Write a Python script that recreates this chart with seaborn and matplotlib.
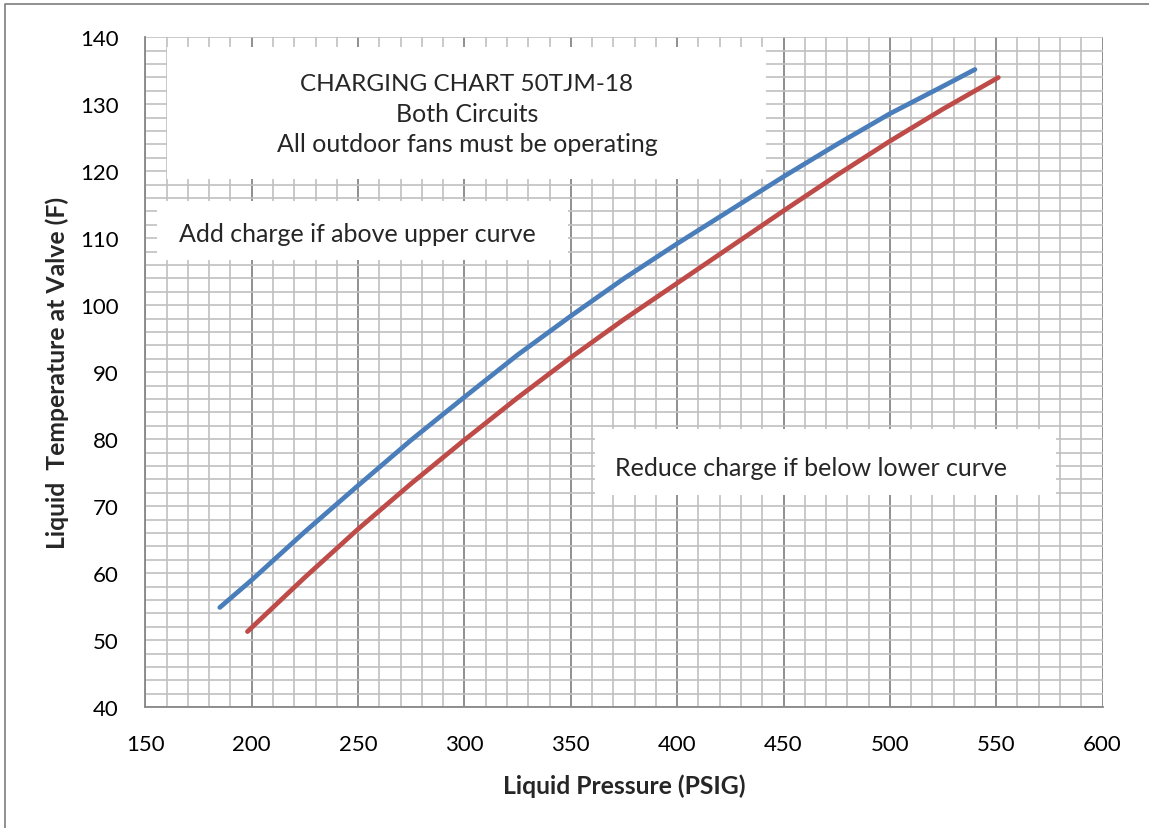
import pandas as pd
import matplotlib.pyplot as plt
import seaborn as sns
from matplotlib.lines import Line2D
from matplotlib.patches import Rectangle
from matplotlib.ticker import MultipleLocator

# Upper curve (blue)
upper_psig = [185, 200, 225, 250, 275, 300, 325, 350, 375, 400, 425, 450, 475, 500, 525, 540]
upper_temp = [54.9, 59.0, 66.2, 73.1, 79.9, 86.3, 92.6, 98.4, 104.0, 109.2, 114.2, 119.2, 124.0, 128.6, 132.7, 135.2]

# Lower curve (red)
lower_psig = [198, 225, 250, 275, 300, 325, 350, 375, 400, 425, 450, 475, 500, 525, 551]
lower_temp = [51.3, 59.4, 66.6, 73.4, 79.9, 86.2, 92.2, 97.9, 103.3, 108.7, 114.1, 119.4, 124.5, 129.3, 134.0]

x_ticks = [150, 200, 250, 300, 350, 400, 450, 500, 550, 600]
y_ticks = [40, 50, 60, 70, 80, 90, 100, 110, 120, 130, 140]

title_lines = ['CHARGING CHART 50TJM-18', 'Both Circuits', 'All outdoor fans must be operating']
note_add = 'Add charge if above upper curve'
note_reduce = 'Reduce charge if below lower curve'

GRID_LIGHT = '#c0c0c0'
GRID_DARK = '#878787'


def build_frame():
    upper = pd.DataFrame({'psig': upper_psig, 'temp': upper_temp, 'curve': 'upper'})
    lower = pd.DataFrame({'psig': lower_psig, 'temp': lower_temp, 'curve': 'lower'})
    return pd.concat([upper, lower], ignore_index=True)


def draw_chart(df):
    sns.set_style('white')
    plt.rcParams['font.family'] = ['Lato', 'DejaVu Sans']

    fig = plt.figure(figsize=(11.49, 8.29), dpi=100)
    ax = fig.add_axes([0.1265, 0.1456, 0.8331, 0.8082])

    # Graph-paper grid
    ax.set_xlim(150, 600)
    ax.set_ylim(40, 140)
    ax.set_xticks(x_ticks)
    ax.set_yticks(y_ticks)
    ax.xaxis.set_minor_locator(MultipleLocator(10))
    ax.yaxis.set_minor_locator(MultipleLocator(2))
    ax.grid(which='minor', color=GRID_LIGHT, lw=1.2)
    ax.grid(which='major', axis='y', color=GRID_LIGHT, lw=1.2)
    ax.grid(which='major', axis='x', color=GRID_DARK, lw=1.3)
    ax.set_axisbelow(True)
    for side in ['top', 'right']:
        ax.spines[side].set_visible(False)
    for side in ['left', 'bottom']:
        ax.spines[side].set_color(GRID_DARK)
        ax.spines[side].set_linewidth(1.3)
    ax.tick_params(which='major', direction='out', length=6, width=1.2, color=GRID_DARK,
                   labelsize=16, labelcolor='black', pad=13)
    ax.tick_params(which='minor', length=0)

    # White text boxes sit over the grid
    boxes = [(160.0, 118.85, 281.8, 19.65), (155.6, 106.8, 193.1, 8.8), (361.6, 71.7, 216.5, 9.8)]
    for x0, y0, w, h in boxes:
        ax.add_patch(Rectangle((x0, y0), w, h, facecolor='white', edgecolor='none', zorder=1.5))

    sns.lineplot(data=df, x='psig', y='temp', hue='curve', sort=False, estimator=None,
                 palette={'upper': '#4a7ebb', 'lower': '#be4b48'}, lw=3.4,
                 solid_capstyle='round', legend=False, ax=ax, zorder=3)

    for text, yb, fs in zip(title_lines, [132.2, 127.5, 123.0], [17.5, 18, 18]):
        ax.text(301.2, yb, text, ha='center', va='baseline', fontsize=fs, zorder=4)
    ax.text(165.9, 109.6, note_add, ha='left', va='baseline', fontsize=18, zorder=4)
    ax.text(370.8, 74.7, note_reduce, ha='left', va='baseline', fontsize=18, zorder=4)

    ax.set_xlabel('Liquid Pressure (PSIG)', fontsize=17.8, fontweight='bold')
    ax.set_ylabel('Liquid  Temperature at Valve (F)', fontsize=17.8, fontweight='bold')
    ax.xaxis.set_label_coords(0.5, -0.098)
    ax.yaxis.set_label_coords(-0.0798, 0.5)

    # Chart area border (only top and left edges show in the crop)
    fig.lines.append(Line2D([5 / 1149, 5 / 1149, 1.0], [0.0, 1 - 5 / 829, 1 - 5 / 829],
                            transform=fig.transFigure, color=GRID_DARK, lw=1.3))

    fig.savefig('out.png', dpi=100)
    plt.close(fig)


def main():
    df = build_frame()
    draw_chart(df)


if __name__ == '__main__':
    main()
